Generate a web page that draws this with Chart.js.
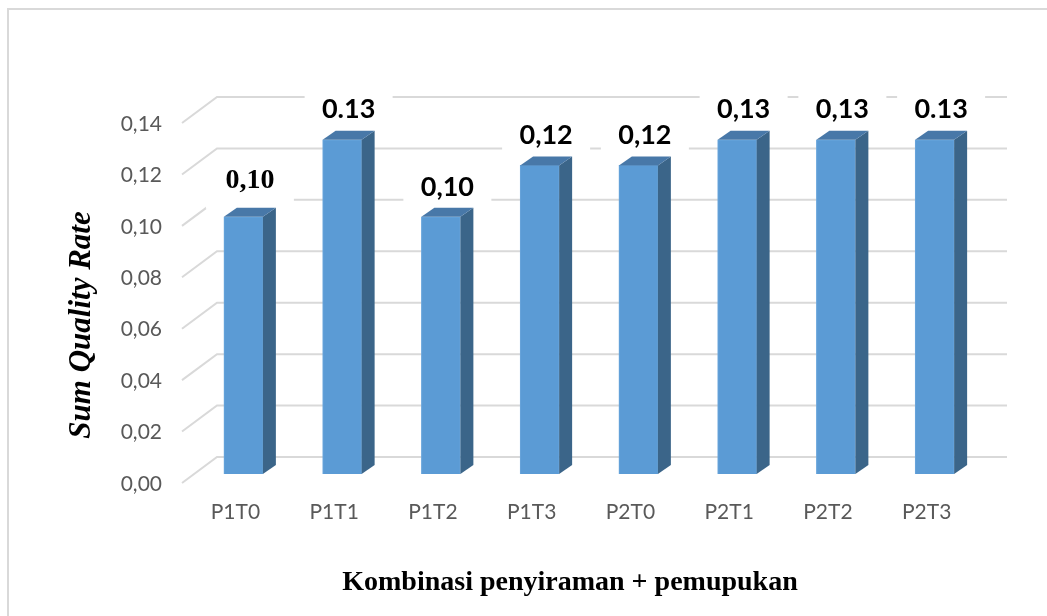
<!DOCTYPE html>
<html>
<head>
<meta charset="utf-8">
<script src="https://cdn.jsdelivr.net/npm/chart.js@4/dist/chart.umd.min.js"></script>
<style>
  html, body { margin: 0; padding: 0; background: #fff; }
  #wrap { position: relative; width: 1047px; height: 616px; }
</style>
</head>
<body>
<div id="wrap"><canvas id="qualityChart" width="1047" height="616"></canvas></div>
<script>
// DATA
const categories = ["P1T0", "P1T1", "P1T2", "P1T3", "P2T0", "P2T1", "P2T2", "P2T3"];
const qualityRate = [0.10, 0.13, 0.10, 0.12, 0.12, 0.13, 0.13, 0.13];
const valueLabels = ["0,10", "0.13", "0,10", "0,12", "0,12", "0,13", "0,13", "0.13"];
const yTicks = [0, 0.02, 0.04, 0.06, 0.08, 0.10, 0.12, 0.14];
const yTitle = "Sum Quality Rate";
const xTitle = "Kombinasi penyiraman + pemupukan";

// STYLE
const frontColor = "#5b9bd5";
const sideColor = "#3b6589";
const topColor = "#4878a8";
const gridColor = "#d9d9d9";
const tickColor = "#595959";
const depth = { dx: 13, dy: -9 };      // bar thickness
const wall = { dx: 35, dy: -26 };      // front plane -> back wall
const front = { dx: -12, dy: 9 };      // bar plane -> front plane

// 3D look: floor/wall grid, bar sides and tops, value labels
const bar3d = {
  id: "bar3d",
  beforeDraw(chart) {
    const ctx = chart.ctx;
    ctx.save();
    ctx.fillStyle = "#fff";
    ctx.fillRect(0, 0, chart.width, chart.height);
    ctx.strokeStyle = gridColor;
    ctx.lineWidth = 2;
    ctx.beginPath();
    ctx.moveTo(8, chart.height);
    ctx.lineTo(8, 9);
    ctx.lineTo(chart.width, 9);
    ctx.stroke();
    ctx.restore();
  },
  beforeDatasetsDraw(chart) {
    const ctx = chart.ctx;
    const area = chart.chartArea;
    const y = chart.scales.y;
    ctx.save();
    ctx.strokeStyle = gridColor;
    ctx.lineWidth = 2;
    yTicks.forEach(v => {
      const py = y.getPixelForValue(v);
      const fx = area.left + front.dx, fy = py + front.dy;
      ctx.beginPath();
      ctx.moveTo(fx, fy);
      ctx.lineTo(fx + wall.dx, fy + wall.dy);
      ctx.lineTo(area.right + front.dx + wall.dx, fy + wall.dy);
      ctx.stroke();
    });
    // white boxes behind value labels
    const meta = chart.getDatasetMeta(0);
    ctx.fillStyle = "#fff";
    meta.data.forEach((bar, i) => {
      const cx = bar.x + depth.dx / 2;
      const cy = bar.y + depth.dy - 21;
      ctx.fillRect(cx - 44, cy - 22, 88, 44);
    });
    ctx.restore();
  },
  afterDatasetsDraw(chart) {
    const ctx = chart.ctx;
    const meta = chart.getDatasetMeta(0);
    ctx.save();
    meta.data.forEach((bar, i) => {
      const l = bar.x - bar.width / 2, r = bar.x + bar.width / 2;
      const t = bar.y, b = bar.base;
      // side
      ctx.fillStyle = sideColor;
      ctx.beginPath();
      ctx.moveTo(r, t);
      ctx.lineTo(r + depth.dx, t + depth.dy);
      ctx.lineTo(r + depth.dx, b + depth.dy);
      ctx.lineTo(r, b);
      ctx.closePath();
      ctx.fill();
      // top
      ctx.fillStyle = topColor;
      ctx.beginPath();
      ctx.moveTo(l, t);
      ctx.lineTo(l + depth.dx, t + depth.dy);
      ctx.lineTo(r + depth.dx, t + depth.dy);
      ctx.lineTo(r, t);
      ctx.closePath();
      ctx.fill();
      // value label
      ctx.fillStyle = "#000";
      ctx.textAlign = "center";
      ctx.textBaseline = "middle";
      ctx.font = i === 0 ? "bold 28px 'Liberation Serif'" : "bold 27px Lato";
      ctx.fillText(valueLabels[i], bar.x + depth.dx / 2, t + depth.dy - (i === 0 ? 27 : 21));
    });
    ctx.restore();
  },
  afterDraw(chart) {
    const ctx = chart.ctx;
    ctx.save();
    ctx.fillStyle = "#000";
    ctx.textAlign = "center";
    ctx.textBaseline = "middle";
    ctx.font = "bold 28px 'Liberation Serif'";
    ctx.fillText(xTitle, 570, 583);
    ctx.translate(82, 325);
    ctx.rotate(-Math.PI / 2);
    ctx.font = "italic bold 31px 'Liberation Serif'";
    ctx.fillText(yTitle, 0, 0);
    ctx.restore();
  }
};

const chart = new Chart(document.getElementById("qualityChart"), {
  type: "bar",
  data: {
    labels: categories,
    datasets: [{
      data: qualityRate,
      backgroundColor: frontColor,
      borderColor: "#6aa6dc",
      borderWidth: 1,
      barThickness: 39
    }]
  },
  options: {
    responsive: false,
    animation: false,
    devicePixelRatio: 1,
    layout: { padding: { left: 0, top: 114, right: 63, bottom: 0 } },
    plugins: {
      legend: { display: false },
      tooltip: { enabled: false }
    },
    scales: {
      x: {
        grid: { display: false, drawTicks: false },
        border: { display: false },
        ticks: {
          color: tickColor,
          font: { family: "Lato", size: 21 },
          padding: 26,
          labelOffset: -8,
          maxRotation: 0
        },
        afterFit(scale) { scale.height = 142; }
      },
      y: {
        min: 0,
        max: 0.14,
        grid: { display: false, drawTicks: false },
        border: { display: false },
        afterBuildTicks(scale) { scale.ticks = yTicks.map(v => ({ value: v })); },
        ticks: {
          color: tickColor,
          font: { family: "Lato", size: 21 },
          padding: 32,
          labelOffset: 10,
          callback: v => v.toFixed(2).replace(".", ",")
        },
        afterFit(scale) { scale.width = 194; }
      }
    }
  },
  plugins: [bar3d]
});
</script>
</body>
</html>
